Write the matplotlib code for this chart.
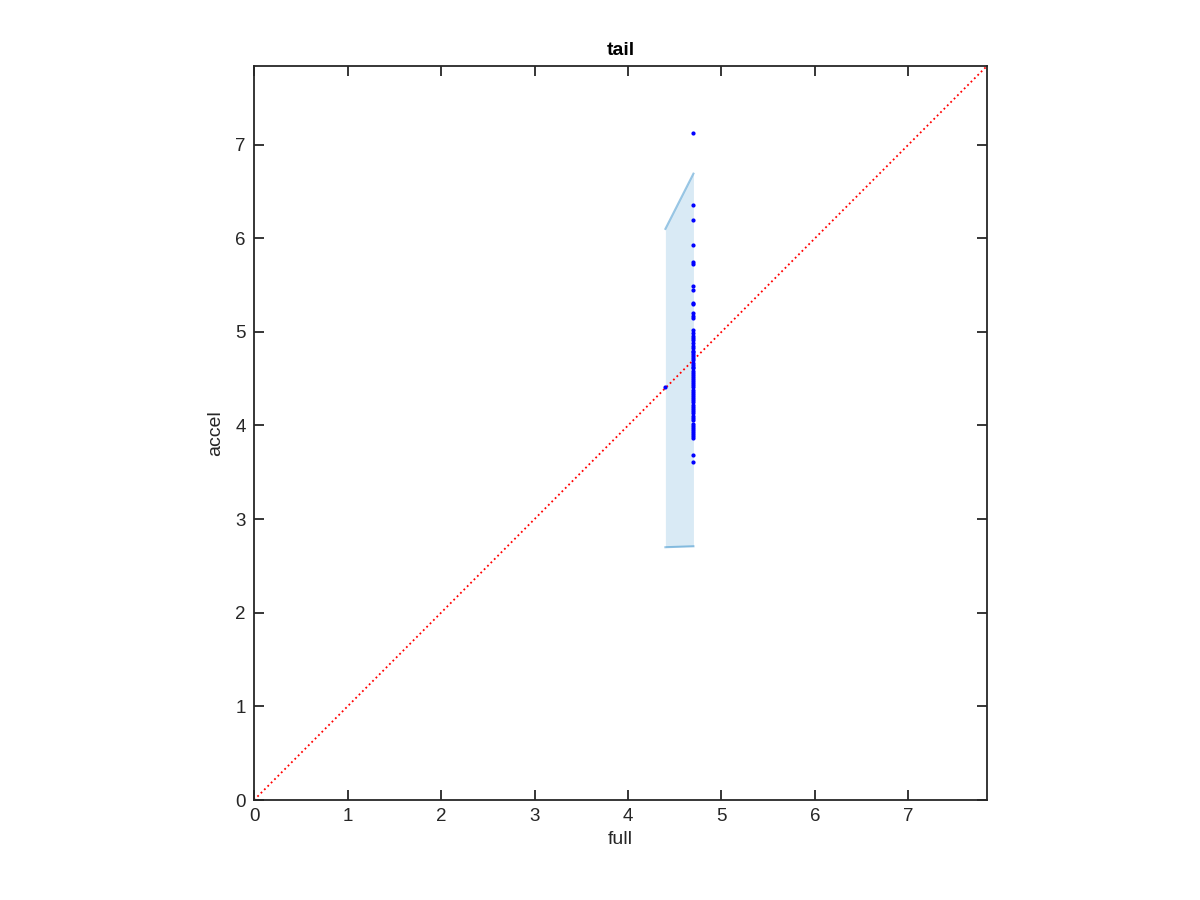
import matplotlib
matplotlib.use("Agg")
import matplotlib.pyplot as plt

plt.rcParams['font.family'] = ['Liberation Sans', 'DejaVu Sans']

# Data
full_vals = [4.40] + [4.70] * 65
accel_vals = [4.41,
              7.12, 6.35, 6.20, 5.93, 5.75, 5.72, 5.49, 5.45, 5.31, 5.30,
              5.20, 5.17, 5.15, 5.02, 4.99, 4.96, 4.93, 4.91, 4.88, 4.85,
              4.83, 4.80, 4.78, 4.76, 4.74, 4.72, 4.70, 4.67, 4.65, 4.63,
              4.61, 4.58, 4.56, 4.54, 4.52, 4.50, 4.48, 4.45, 4.43, 4.41,
              4.38, 4.36, 4.34, 4.31, 4.29, 4.27, 4.25, 4.22, 4.20, 4.18,
              4.15, 4.13, 4.10, 4.08, 4.06, 4.02, 3.99, 3.97, 3.95, 3.93,
              3.91, 3.89, 3.87, 3.69, 3.61]

band_x = [4.40, 4.70]
band_upper = [6.10, 6.69]
band_lower = [2.70, 2.71]

lim = 7.84

fig = plt.figure(figsize=(12, 9), dpi=100)
ax = fig.add_axes([0.2117, 0.1111, 0.6108, 0.8156])

blue = (0, 0.447, 0.741)
ax.fill_between(band_x, band_lower, band_upper, color=blue, alpha=0.15, linewidth=0)
ax.plot(band_x, band_upper, color=blue, alpha=0.4, linewidth=1.5)
ax.plot(band_x, band_lower, color=blue, alpha=0.4, linewidth=1.5)

ax.plot([0, lim], [0, lim], color='red', linestyle=':', linewidth=1.3)
ax.plot(full_vals, accel_vals, linestyle='none', marker='.', color='blue', markersize=4)

ax.set_xlim(0, lim)
ax.set_ylim(0, lim)
ax.set_xticks(range(0, 8))
ax.set_yticks(range(0, 8))

dark = (0.15, 0.15, 0.15)
for s in ax.spines.values():
    s.set_color(dark)
    s.set_linewidth(1.3)
ax.tick_params(direction='in', top=True, right=True, length=7, width=1.3,
               colors=dark, labelsize=13.5, pad=6)

ax.set_xlabel('full', fontsize=14, color=dark, labelpad=4)
ax.set_ylabel('accel', fontsize=14, color=dark, labelpad=8)
ax.set_title('tail', fontsize=14, fontweight='bold', pad=8)

fig.savefig('out.png', dpi=100)
